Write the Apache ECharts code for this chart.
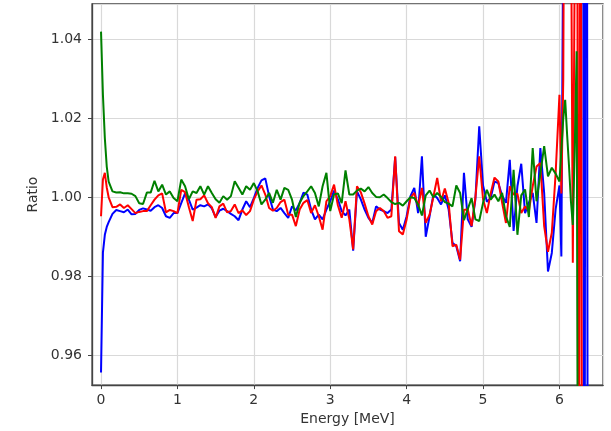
<!DOCTYPE html>
<html>
<head>
<meta charset="utf-8">
<script src="https://cdn.jsdelivr.net/npm/echarts@6/dist/echarts.min.js"></script>
<style>
html,body{margin:0;padding:0;background:#fff;}
#chart{width:611px;height:431px;}
</style>
</head>
<body>
<div id="chart"></div>
<script>
// Energy grid (MeV)
var energies = [
  0, 0.025, 0.05, 0.075, 0.1,
  0.15, 0.2, 0.25, 0.3, 0.35, 0.4, 0.45, 0.5, 0.55, 0.6,
  0.65, 0.7, 0.75, 0.8, 0.85, 0.9, 0.95, 1.0, 1.05, 1.1,
  1.15, 1.2, 1.25, 1.3, 1.35, 1.4, 1.45, 1.5, 1.55, 1.6,
  1.65, 1.7, 1.75, 1.8, 1.85, 1.9, 1.95, 2.0, 2.05, 2.1,
  2.15, 2.2, 2.25, 2.3, 2.35, 2.4, 2.45, 2.5, 2.55, 2.6,
  2.65, 2.7, 2.75, 2.8, 2.85, 2.9, 2.95, 3.0, 3.05, 3.1,
  3.15, 3.2, 3.25, 3.3, 3.35, 3.4, 3.45, 3.5, 3.55, 3.6,
  3.65, 3.7, 3.75, 3.8, 3.85, 3.9, 3.95, 4.0, 4.05, 4.1,
  4.15, 4.2, 4.25, 4.3, 4.35, 4.4, 4.45, 4.5, 4.55, 4.6,
  4.65, 4.7, 4.75, 4.8, 4.85, 4.9, 4.95, 5.0, 5.05, 5.1,
  5.15, 5.2, 5.25, 5.3, 5.35, 5.4, 5.45, 5.5, 5.55, 5.6,
  5.65, 5.7, 5.75, 5.8, 5.85, 5.9, 5.95,
  6.0, 6.025, 6.05, 6.075, 6.1, 6.125, 6.15, 6.175, 6.2, 6.225, 6.25, 6.275, 6.3, 6.325, 6.35, 6.375, 6.4
];

var blueRatio = [
  0.9556, 0.986, 0.9905, 0.9925, 0.9937,
  0.9958, 0.9968, 0.9965, 0.9962, 0.9969, 0.9957, 0.9958, 0.9968, 0.9972, 0.9969,
  0.9966, 0.9975, 0.998, 0.9973, 0.9952, 0.9948, 0.996, 0.996, 0.9985, 1.001,
  0.9994, 0.9969, 0.9974, 0.998, 0.9977, 0.9982, 0.9972, 0.995, 0.9966, 0.9971,
  0.9965, 0.9958, 0.9952, 0.9942, 0.9969, 0.999, 0.9975, 0.9998, 1.0024, 1.0043,
  1.0048, 1.0003, 0.9969, 0.9965, 0.9973, 0.996, 0.9948, 0.9977, 0.9967, 0.9986,
  1.0012, 1.0007, 0.9969, 0.9944, 0.9956, 0.9944, 0.9969, 0.999, 1.0017, 0.9995,
  0.9965, 0.9954, 0.9969, 0.9865, 1.0015, 0.9995, 0.9969, 0.9948, 0.9935, 0.9977,
  0.9969, 0.9965, 0.996, 0.9969, 1.0102, 0.9935, 0.9918, 0.9952, 1.0003, 1.0024,
  0.996, 1.0104, 0.99, 0.9952, 1.0007, 0.9998, 0.9982, 1.0005, 0.9969, 0.9885,
  0.9876, 0.9838, 1.0062, 0.9944, 0.9925, 0.9995, 1.018, 1.003, 0.9989, 0.9998,
  1.004, 1.0036, 1.0004, 0.9986, 1.0095, 0.9915, 1.0028, 1.0085, 0.996, 0.9986,
  1.0011, 0.9935, 1.0125, 1.0011, 0.9812, 0.9859, 0.997,
  1.003, 0.985, 1.07, 1.2, 1.3, 1.3, 1.3, 1.3, 1.3, 1.3, 1.3, 1.3, 1.3, 0.8, 1.3, 0.8, 0.8
];

var redRatio = [
  0.9952, 1.0045, 1.0062, 1.0025, 1.0,
  0.9975, 0.9976, 0.9982, 0.9973, 0.998, 0.997, 0.996, 0.9963, 0.9965, 0.9965,
  0.998, 0.9994, 1.0005, 1.001, 0.9962, 0.9968, 0.9965, 0.996, 1.0019, 1.0013,
  0.9975, 0.994, 0.9994, 0.9995, 1.0005, 0.9985, 0.9975, 0.9948, 0.9977, 0.9984,
  0.9962, 0.9965, 0.9982, 0.996, 0.9967, 0.9955, 0.9965, 0.9994, 1.0015, 1.003,
  1.0007, 0.9973, 0.9966, 0.9973, 0.9988, 0.9994, 0.9956, 0.9956, 0.9927, 0.9969,
  0.9986, 0.9993, 0.996, 0.998, 0.9952, 0.9918, 0.999, 1.0003, 1.0032, 0.998,
  0.9948, 0.999, 0.9944, 0.9868, 1.0028, 1.0013, 0.9984, 0.9952, 0.9931, 0.9965,
  0.9973, 0.9965, 0.9948, 0.9952, 1.0104, 0.9914, 0.9906, 0.9944, 0.9998, 1.0011,
  0.9977, 1.0024, 0.9935, 0.9956, 1.0001, 1.0049, 0.999, 1.0022, 0.9986, 0.9876,
  0.988, 0.9842, 0.9968, 0.997, 0.9927, 1.0, 1.0104, 0.9995, 0.996, 1.001,
  1.005, 1.004, 0.9986, 0.9935, 1.0028, 1.0007, 1.0009, 0.996, 0.9977, 0.9965,
  1.0028, 1.0078, 1.0087, 0.9927, 0.9862, 0.991, 1.006,
  1.026, 1.001, 1.03, 1.15, 1.2, 1.2, 1.08, 0.9834, 1.06, 1.2, 0.85, 1.15, 0.85, 0.85, 0.85, 0.85, 0.85
];

var greenRatio = [
  1.042, 1.026, 1.015, 1.0078, 1.004,
  1.0015, 1.0012, 1.0013, 1.001, 1.001, 1.0009, 1.0003, 0.9985, 0.9983, 1.0012,
  1.0012, 1.0042, 1.0015, 1.0032, 1.0007, 1.0015, 0.9998, 0.999, 1.0045, 1.0028,
  0.9995, 1.0015, 1.0011, 1.0028, 1.0007, 1.0028, 1.0011, 0.9995, 0.9986, 1.0003,
  0.9994, 1.0003, 1.0041, 1.0024, 1.0007, 1.0028, 1.0019, 1.0036, 1.0015, 0.9982,
  0.9994, 1.0011, 0.9986, 1.0019, 0.9994, 1.0024, 1.0019, 0.9994, 0.995, 0.9986,
  1.0003, 1.0015, 1.0028, 1.0011, 0.9977, 1.0028, 1.0062, 0.9965, 1.0007, 1.001,
  0.9985, 1.0068, 1.0007, 1.0007, 1.0017, 1.0022, 1.0015, 1.0026, 1.0011, 1.0001,
  1.0, 1.0007, 0.9998, 0.9988, 0.9983, 0.9986, 0.9979, 0.999, 1.0, 0.9998,
  0.9982, 0.9954, 1.0005, 1.0017, 1.0, 1.0011, 1.0001, 0.9988, 0.9984, 0.9977,
  1.003, 1.0011, 0.9942, 0.997, 0.9998, 0.9944, 0.994, 0.9986, 1.0019, 0.9994,
  1.0007, 0.999, 1.0011, 0.9952, 0.9925, 1.007, 0.9905, 1.0005, 1.002, 0.995,
  1.0125, 0.999, 1.006, 1.013, 1.0053, 1.0075, 1.006,
  1.004, 1.012, 1.02, 1.0247, 1.016, 1.008, 0.999, 0.993, 1.012, 1.037, 0.85, 0.85, 0.85, 0.85, 0.85, 0.85, 0.85
];

var xTickLabels = ['0', '1', '2', '3', '4', '5', '6'];
var yTickLabels = ['0.96', '0.98', '1.00', '1.02', '1.04'];

function pairs(ys) {
  return energies.map(function (e, i) { return [e, ys[i]]; });
}

var FONT = 'DejaVu Sans';
var AXIS_COLOR = '#444';
var TEXT_COLOR = '#333';
var FS = 14;

var chart = echarts.init(document.getElementById('chart'), null, {renderer: 'canvas'});
chart.setOption({
  animation: false,
  backgroundColor: '#fff',
  grid: {
    left: 92, right: 8, top: 4, bottom: 45,
    show: true, borderColor: AXIS_COLOR, borderWidth: 1.3, backgroundColor: 'transparent'
  },
  xAxis: {
    type: 'value',
    min: -0.118, max: 6.57,
    minInterval: 1, maxInterval: 1,
    name: 'Energy [MeV]',
    nameLocation: 'middle',
    nameGap: 24,
    nameTextStyle: {fontFamily: FONT, fontSize: FS, color: TEXT_COLOR},
    axisLine: {show: true, onZero: false, lineStyle: {color: AXIS_COLOR, width: 1.3}},
    axisTick: {show: true, length: 4, lineStyle: {color: AXIS_COLOR, width: 1}},
    axisLabel: {
      show: true, margin: 8, showMinLabel: false, showMaxLabel: false,
      fontFamily: FONT, fontSize: FS, color: TEXT_COLOR,
      formatter: function (v) {
        var r = Math.round(v);
        if (Math.abs(v - r) > 1e-6) return '';
        return xTickLabels[r] !== undefined ? xTickLabels[r] : '';
      }
    },
    splitLine: {show: true, lineStyle: {color: '#d9d9d9', width: 1.2}}
  },
  yAxis: {
    type: 'value',
    min: 0.9524, max: 1.049,
    minInterval: 0.02, maxInterval: 0.02,
    name: 'Ratio',
    nameLocation: 'middle',
    nameRotate: 90,
    nameGap: 47,
    nameTextStyle: {fontFamily: FONT, fontSize: FS, color: TEXT_COLOR},
    axisLine: {show: true, onZero: false, lineStyle: {color: AXIS_COLOR, width: 1.3}},
    axisTick: {show: true, length: 4, lineStyle: {color: AXIS_COLOR, width: 1}},
    axisLabel: {
      show: true, margin: 10, showMinLabel: false, showMaxLabel: false,
      fontFamily: FONT, fontSize: FS, color: TEXT_COLOR,
      formatter: function (v) {
        var k = Math.round((v - 0.96) / 0.02);
        if (Math.abs(v - (0.96 + k * 0.02)) > 1e-6) return '';
        return yTickLabels[k] !== undefined ? yTickLabels[k] : '';
      }
    },
    splitLine: {show: true, lineStyle: {color: '#d9d9d9', width: 1.2}}
  },
  series: [
    {name: 'blue', type: 'line', data: pairs(blueRatio), showSymbol: false, clip: true,
     lineStyle: {color: '#0000ff', width: 2}, itemStyle: {color: '#0000ff'}},
    {name: 'red', type: 'line', data: pairs(redRatio), showSymbol: false, clip: true,
     lineStyle: {color: '#ff0000', width: 2}, itemStyle: {color: '#ff0000'}},
    {name: 'green', type: 'line', data: pairs(greenRatio), showSymbol: false, clip: true,
     lineStyle: {color: '#008000', width: 2}, itemStyle: {color: '#008000'}}
  ]
});
</script>
</body>
</html>
